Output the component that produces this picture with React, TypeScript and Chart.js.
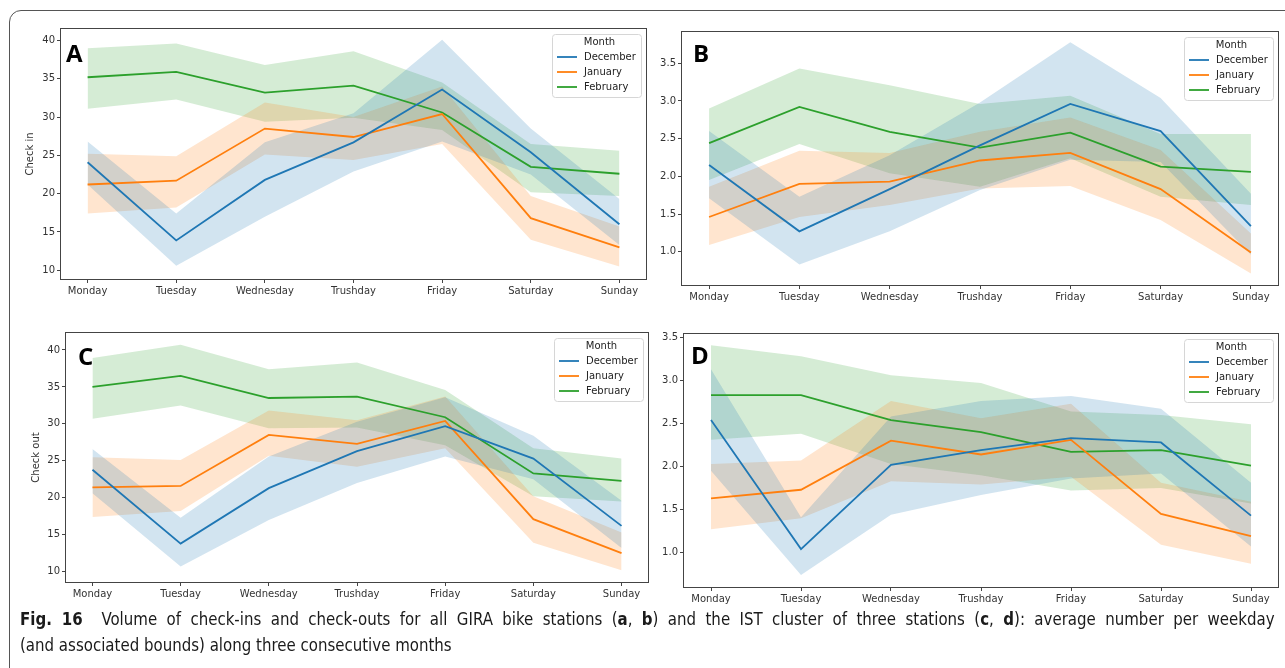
import React, { useEffect, useLayoutEffect, useRef } from 'react';
import { Chart, registerables } from 'chart.js';

Chart.register(...registerables);

// ---------- data ----------
const days = ['Monday', 'Tuesday', 'Wednesday', 'Trushday', 'Friday', 'Saturday', 'Sunday'];
const months = ['December', 'January', 'February'];

// Panel A: check in, all GIRA stations
const aDec = [24.1, 13.9, 21.8, 26.7, 33.6, 25.4, 16.0];
const aDecLo = [21.2, 10.6, 17.0, 22.9, 26.8, 22.5, 13.3];
const aDecHi = [26.8, 17.4, 26.7, 30.5, 40.1, 28.5, 19.3];
const aJan = [21.2, 21.7, 28.5, 27.4, 30.4, 16.8, 13.0];
const aJanLo = [17.4, 18.2, 25.1, 24.4, 26.5, 14.0, 10.5];
const aJanHi = [25.2, 24.9, 31.9, 30.0, 34.0, 19.7, 15.7];
const aFeb = [35.2, 35.9, 33.2, 34.1, 30.6, 23.5, 22.6];
const aFebLo = [31.1, 32.3, 29.4, 29.9, 28.3, 20.2, 19.7];
const aFebHi = [39.0, 39.6, 36.8, 38.6, 34.5, 26.5, 25.6];
const aTicks = [10, 15, 20, 25, 30, 35, 40];

// Panel B: check in, IST cluster
const bDec = [2.15, 1.27, 1.83, 2.41, 2.96, 2.6, 1.34];
const bDecLo = [1.71, 0.83, 1.27, 1.82, 2.22, 2.19, 0.96];
const bDecHi = [2.6, 1.73, 2.28, 2.98, 3.78, 3.04, 1.77];
const bJan = [1.46, 1.9, 1.93, 2.21, 2.31, 1.83, 0.99];
const bJanLo = [1.09, 1.46, 1.62, 1.84, 1.87, 1.42, 0.71];
const bJanHi = [1.86, 2.34, 2.31, 2.59, 2.78, 2.35, 1.24];
const bFeb = [2.44, 2.92, 2.59, 2.38, 2.58, 2.13, 2.06];
const bFebLo = [1.95, 2.43, 2.04, 1.86, 2.24, 1.73, 1.62];
const bFebHi = [2.9, 3.43, 3.21, 2.96, 3.07, 2.56, 2.56];
const bTicks = [1.0, 1.5, 2.0, 2.5, 3.0, 3.5];

// Panel C: check out, all GIRA stations
const cDec = [23.8, 13.8, 21.3, 26.3, 29.7, 25.3, 16.2];
const cDecLo = [20.6, 10.7, 17.0, 22.0, 25.6, 22.5, 13.2];
const cDecHi = [26.6, 17.3, 25.6, 30.3, 33.6, 28.4, 19.6];
const cJan = [21.4, 21.6, 28.5, 27.3, 30.4, 17.1, 12.5];
const cJanLo = [17.4, 18.2, 25.7, 24.2, 26.7, 13.9, 10.2];
const cJanHi = [25.5, 25.1, 31.8, 30.5, 33.7, 20.2, 15.3];
const cFeb = [35.0, 36.5, 33.5, 33.7, 30.9, 23.3, 22.3];
const cFebLo = [30.7, 32.5, 29.4, 29.5, 27.1, 20.2, 19.5];
const cFebHi = [38.9, 40.7, 37.4, 38.3, 34.6, 26.7, 25.3];
const cTicks = [10, 15, 20, 25, 30, 35, 40];

// Panel D: check out, IST cluster
const dDec = [2.54, 1.04, 2.02, 2.19, 2.33, 2.28, 1.43];
const dDecLo = [1.95, 0.74, 1.44, 1.67, 1.86, 1.92, 1.07];
const dDecHi = [3.13, 1.41, 2.58, 2.76, 2.82, 2.67, 1.81];
const dJan = [1.63, 1.73, 2.3, 2.14, 2.31, 1.45, 1.19];
const dJanLo = [1.27, 1.4, 1.83, 1.79, 1.88, 1.09, 0.87];
const dJanHi = [2.03, 2.07, 2.76, 2.56, 2.73, 1.81, 1.59];
const dFeb = [2.83, 2.83, 2.54, 2.4, 2.17, 2.19, 2.01];
const dFebLo = [2.31, 2.38, 2.03, 1.9, 1.72, 1.75, 1.57];
const dFebHi = [3.41, 3.28, 3.06, 2.97, 2.64, 2.6, 2.49];
const dTicks = [1.0, 1.5, 2.0, 2.5, 3.0, 3.5];

// ---------- styles ----------
const LINE_COLORS = ['#1f77b4', '#ff7f0e', '#2ca02c'];
const BAND_COLORS = ['rgba(31,119,180,0.2)', 'rgba(255,127,14,0.2)', 'rgba(44,160,44,0.2)'];
const AXIS_COLOR = '#444';
const TEXT_COLOR = '#333';
const TICK_FONT = { family: '"DejaVu Sans", sans-serif', size: 10 };

type Series = { mean: number[]; lo: number[]; hi: number[] };
type PanelCfg = {
  letter: string;
  yTitle?: string;
  yTitleOffset?: number;
  series: Series[];
  ticks: number[];
  decimals: number;
  yMin: number;
  yMax: number;
  canvas: { left: number; top: number; width: number; height: number };
  area: { left: number; top: number; right: number; bottom: number };
  letterDx: number;
  letterDy: number;
};

const panels: PanelCfg[] = [
  {
    letter: 'A', yTitle: 'Check in', yTitleOffset: 31,
    series: [
      { mean: aDec, lo: aDecLo, hi: aDecHi },
      { mean: aJan, lo: aJanLo, hi: aJanHi },
      { mean: aFeb, lo: aFebLo, hi: aFebHi },
    ],
    ticks: aTicks, decimals: 0, yMin: 8.86, yMax: 41.5,
    canvas: { left: 0, top: 14, width: 652, height: 300 },
    area: { left: 61, top: 29, right: 646, bottom: 279 },
    letterDx: 5, letterDy: 33,
  },
  {
    letter: 'B',
    series: [
      { mean: bDec, lo: bDecLo, hi: bDecHi },
      { mean: bJan, lo: bJanLo, hi: bJanHi },
      { mean: bFeb, lo: bFebLo, hi: bFebHi },
    ],
    ticks: bTicks, decimals: 1, yMin: 0.558, yMax: 3.915,
    canvas: { left: 652, top: 14, width: 633, height: 300 },
    area: { left: 682, top: 32, right: 1278, bottom: 285 },
    letterDx: 11, letterDy: 30,
  },
  {
    letter: 'C', yTitle: 'Check out', yTitleOffset: 30,
    series: [
      { mean: cDec, lo: cDecLo, hi: cDecHi },
      { mean: cJan, lo: cJanLo, hi: cJanHi },
      { mean: cFeb, lo: cFebLo, hi: cFebHi },
    ],
    ticks: cTicks, decimals: 0, yMin: 8.6, yMax: 42.3,
    canvas: { left: 0, top: 318, width: 652, height: 290 },
    area: { left: 66, top: 333, right: 648, bottom: 582 },
    letterDx: 12, letterDy: 32,
  },
  {
    letter: 'D',
    series: [
      { mean: dDec, lo: dDecLo, hi: dDecHi },
      { mean: dJan, lo: dJanLo, hi: dJanHi },
      { mean: dFeb, lo: dFebLo, hi: dFebHi },
    ],
    ticks: dTicks, decimals: 1, yMin: 0.6, yMax: 3.54,
    canvas: { left: 652, top: 318, width: 633, height: 290 },
    area: { left: 684, top: 334, right: 1278, bottom: 587 },
    letterDx: 7, letterDy: 30,
  },
];

const Y_AXIS_W = 24;
const X_AXIS_H = 20;

function toPoints(vals: number[]) {
  return vals.map((v, i) => ({ x: i, y: v }));
}

function PanelChart({ cfg }: { cfg: PanelCfg }) {
  const ref = useRef<HTMLCanvasElement>(null);

  useEffect(() => {
    const canvas = ref.current;
    if (!canvas) return;
    const c = cfg.canvas;
    const a = cfg.area;
    const padding = {
      left: a.left - c.left - Y_AXIS_W,
      top: a.top - c.top,
      right: c.left + c.width - a.right,
      bottom: c.top + c.height - a.bottom - X_AXIS_H,
    };

    const datasets: any[] = [];
    cfg.series.forEach((s, i) => {
      const loIndex = datasets.length;
      datasets.push({
        label: months[i] + ' lo',
        data: toPoints(s.lo),
        borderWidth: 0,
        borderColor: 'rgba(0,0,0,0)',
        pointRadius: 0,
        fill: false,
        order: 2,
      });
      datasets.push({
        label: months[i] + ' hi',
        data: toPoints(s.hi),
        borderWidth: 0,
        borderColor: 'rgba(0,0,0,0)',
        backgroundColor: BAND_COLORS[i],
        pointRadius: 0,
        fill: { target: loIndex },
        order: 2,
      });
    });
    cfg.series.forEach((s, i) => {
      datasets.push({
        label: months[i],
        data: toPoints(s.mean),
        borderColor: LINE_COLORS[i],
        borderWidth: 1.8,
        pointRadius: 0,
        fill: false,
        tension: 0,
        order: 1,
      });
    });

    const decor = {
      id: 'decor',
      afterDatasetsDraw(chart: any) {
        const { ctx, chartArea: ca } = chart;
        ctx.save();
        ctx.strokeStyle = AXIS_COLOR;
        ctx.lineWidth = 1;
        ctx.strokeRect(Math.round(ca.left) - 0.5, Math.round(ca.top) - 0.5,
          Math.round(ca.right - ca.left) + 1, Math.round(ca.bottom - ca.top) + 1);
        ctx.restore();
      },
      afterDraw(chart: any) {
        const { ctx, chartArea: ca } = chart;
        ctx.save();
        // legend
        const bw = 89, bh = 63;
        const bx = ca.right - 5 - bw;
        const by = ca.top + 5;
        ctx.beginPath();
        (ctx as any).roundRect(bx + 0.5, by + 0.5, bw, bh, 3);
        ctx.fillStyle = 'rgba(255,255,255,0.85)';
        ctx.fill();
        ctx.strokeStyle = '#d6d6d6';
        ctx.lineWidth = 1;
        ctx.stroke();
        ctx.font = '10px "DejaVu Sans", sans-serif';
        ctx.fillStyle = '#222';
        ctx.textBaseline = 'middle';
        ctx.textAlign = 'center';
        ctx.fillText('Month', bx + bw / 2 + 3, by + 8);
        ctx.textAlign = 'left';
        months.forEach((m, i) => {
          const yy = by + 23 + i * 15;
          ctx.strokeStyle = LINE_COLORS[i];
          ctx.lineWidth = 1.8;
          ctx.beginPath();
          ctx.moveTo(bx + 5, yy);
          ctx.lineTo(bx + 25, yy);
          ctx.stroke();
          ctx.fillStyle = '#222';
          ctx.fillText(m, bx + 32, yy);
        });
        // panel letter
        ctx.font = 'bold 24px "Open Sans", "DejaVu Sans", sans-serif';
        ctx.fillStyle = '#000';
        ctx.textAlign = 'left';
        ctx.textBaseline = 'alphabetic';
        ctx.fillText(cfg.letter, ca.left + cfg.letterDx, ca.top + cfg.letterDy);
        // y title
        if (cfg.yTitle) {
          ctx.translate(ca.left - (cfg.yTitleOffset || 30), (ca.top + ca.bottom) / 2);
          ctx.rotate(-Math.PI / 2);
          ctx.font = '10px "DejaVu Sans", sans-serif';
          ctx.fillStyle = TEXT_COLOR;
          ctx.textAlign = 'center';
          ctx.textBaseline = 'middle';
          ctx.fillText(cfg.yTitle, 0, 0);
        }
        ctx.restore();
      },
    };

    const gridOpts = {
      display: true,
      drawOnChartArea: false,
      drawTicks: true,
      tickLength: 4,
      tickColor: AXIS_COLOR,
      color: 'rgba(0,0,0,0)',
    };

    const chart = new Chart(canvas, {
      type: 'line',
      data: { datasets },
      options: {
        responsive: false,
        maintainAspectRatio: false,
        animation: false,
        events: [],
        layout: { padding },
        plugins: {
          legend: { display: false },
          tooltip: { enabled: false },
          title: { display: false },
          filler: { propagate: false },
        } as any,
        scales: {
          x: {
            type: 'linear',
            min: -0.3,
            max: 6.3,
            afterFit: (s: any) => { s.height = X_AXIS_H; },
            afterBuildTicks: (s: any) => { s.ticks = days.map((_, i) => ({ value: i })); },
            ticks: {
              autoSkip: false,
              maxRotation: 0,
              minRotation: 0,
              padding: 2,
              color: TEXT_COLOR,
              font: TICK_FONT,
              callback: (v: any) => days[Math.round(Number(v))] ?? '',
            },
            grid: gridOpts,
            border: { display: false },
          },
          y: {
            type: 'linear',
            min: cfg.yMin,
            max: cfg.yMax,
            afterFit: (s: any) => { s.width = Y_AXIS_W; },
            afterBuildTicks: (s: any) => { s.ticks = cfg.ticks.map((v) => ({ value: v })); },
            ticks: {
              padding: 2,
              color: TEXT_COLOR,
              font: TICK_FONT,
              callback: (v: any) => Number(v).toFixed(cfg.decimals),
            },
            grid: gridOpts,
            border: { display: false },
          },
        } as any,
      },
      plugins: [decor],
    });
    return () => chart.destroy();
  }, [cfg]);

  const c = cfg.canvas;
  return (
    <canvas
      ref={ref}
      width={c.width}
      height={c.height}
      style={{ position: 'absolute', left: c.left, top: c.top, width: c.width, height: c.height, display: 'block' }}
    />
  );
}

const CAPTION_LINE1_W = 1250;
const CAPTION_LINE2_W = 390;

function Caption() {
  const wrap = useRef<HTMLDivElement>(null);
  const line1 = useRef<HTMLSpanElement>(null);
  const line2 = useRef<HTMLSpanElement>(null);
  useLayoutEffect(() => {
    if (!wrap.current || !line1.current || !line2.current) return;
    const w1 = line1.current.getBoundingClientRect().width;
    const w2 = line2.current.getBoundingClientRect().width;
    if (w1 <= 0 || w2 <= 0) return;
    const s1 = CAPTION_LINE1_W / w1;
    const s2 = CAPTION_LINE2_W / w2;
    const s = Math.sqrt(s1 * s2);
    const text = line1.current.textContent || '';
    const spaces = (text.match(/ /g) || []).length;
    const extra = CAPTION_LINE1_W / s - w1;
    if (spaces > 0) line1.current.style.wordSpacing = `${extra / spaces}px`;
    wrap.current.style.transform = `scaleX(${s})`;
  }, []);
  return (
    <div
      ref={wrap}
      style={{
        position: 'absolute', left: 20, top: 606, transformOrigin: '0 0',
        fontFamily: '"Liberation Sans Narrow", "DejaVu Sans Condensed", "Liberation Sans", sans-serif',
        fontSize: 18, lineHeight: '26px', color: '#1a1a1a', whiteSpace: 'nowrap',
      }}
    >
      <span ref={line1} style={{ display: 'inline-block' }}>
        <b>Fig. 16</b>{'\u00a0 '}Volume of check-ins and check-outs for all GIRA bike stations (<b>a</b>, <b>b</b>) and the IST cluster of three stations (<b>c</b>, <b>d</b>): average number per weekday
      </span>
      <br />
      <span ref={line2} style={{ display: 'inline-block' }}>(and associated bounds) along three consecutive months</span>
    </div>
  );
}

export default function App() {
  return (
    <div style={{ position: 'fixed', left: 0, top: 0, width: 1285, height: 668, background: '#fff', overflow: 'hidden' }}>
      <div
        style={{
          position: 'absolute', left: 9, top: 10, width: 1300, height: 680,
          border: '1.5px solid #555', borderRadius: 12, boxSizing: 'border-box',
        }}
      />
      {panels.map((p) => (
        <PanelChart key={p.letter} cfg={p} />
      ))}
      <Caption />
    </div>
  );
}
